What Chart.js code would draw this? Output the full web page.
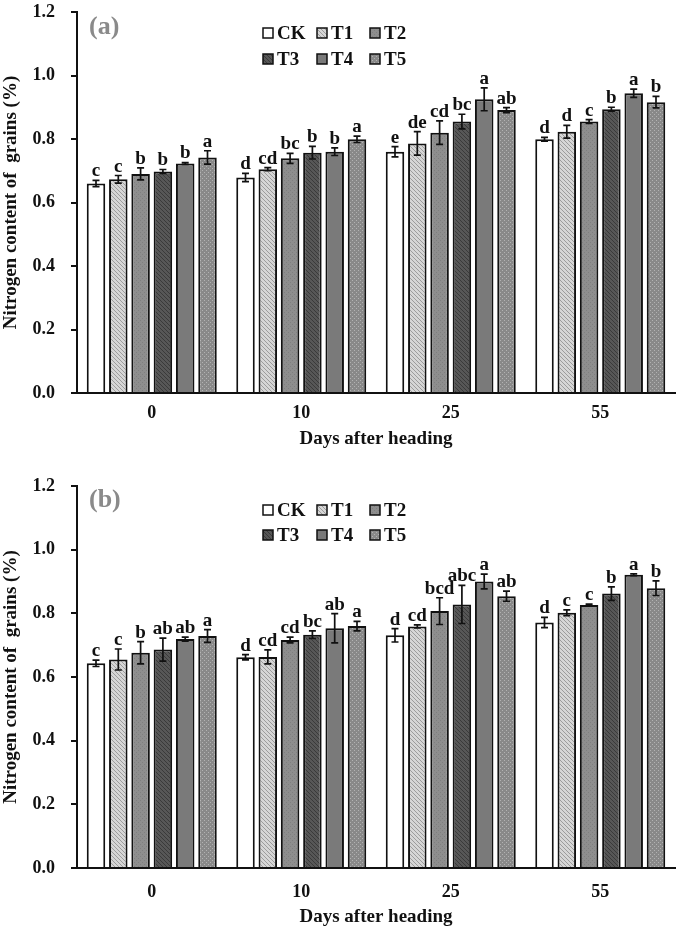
<!DOCTYPE html>
<html>
<head>
<meta charset="utf-8">
<script src="https://cdn.jsdelivr.net/npm/chart.js@4"></script>
<style>
body{margin:0;background:#fff;}
canvas{display:block;}
</style>
</head>
<body>
<canvas id="chartA" width="685" height="464"></canvas>
<canvas id="chartB" width="685" height="464"></canvas>
<script>
var days = ["0", "10", "25", "55"];
var treatments = ["CK", "T1", "T2", "T3", "T4", "T5"];

// panel (a) - one row per treatment, one value per day
var meanA = [
  [0.660, 0.679, 0.760, 0.799],
  [0.673, 0.705, 0.786, 0.823],
  [0.690, 0.739, 0.820, 0.855],
  [0.698, 0.757, 0.855, 0.894],
  [0.723, 0.760, 0.925, 0.944],
  [0.742, 0.799, 0.891, 0.916]
];
var errA = [
  [0.010, 0.013, 0.016, 0.006],
  [0.012, 0.005, 0.037, 0.020],
  [0.019, 0.016, 0.037, 0.006],
  [0.006, 0.020, 0.023, 0.006],
  [0.003, 0.012, 0.036, 0.013],
  [0.021, 0.010, 0.008, 0.018]
];
var lettersA = [
  ["c", "d", "e", "d"],
  ["c", "cd", "de", "d"],
  ["b", "bc", "cd", "c"],
  ["b", "b", "bc", "b"],
  ["b", "b", "a", "a"],
  ["a", "a", "ab", "b"]
];

// panel (b)
var meanB = [
  [0.643, 0.662, 0.731, 0.771],
  [0.655, 0.663, 0.759, 0.802],
  [0.676, 0.716, 0.807, 0.826],
  [0.686, 0.733, 0.828, 0.862],
  [0.719, 0.753, 0.900, 0.921],
  [0.729, 0.760, 0.854, 0.879]
];
var errB = [
  [0.010, 0.008, 0.021, 0.016],
  [0.033, 0.022, 0.005, 0.009],
  [0.035, 0.009, 0.042, 0.003],
  [0.036, 0.012, 0.060, 0.021],
  [0.006, 0.046, 0.023, 0.003],
  [0.020, 0.015, 0.016, 0.023]
];
var lettersB = [
  ["c", "d", "d", "d"],
  ["c", "cd", "cd", "c"],
  ["b", "cd", "bcd", "c"],
  ["ab", "bc", "abc", "b"],
  ["ab", "ab", "a", "a"],
  ["a", "a", "ab", "b"]
];

var FONT = '"Liberation Serif", "Times New Roman", serif';

function pattern(base, dot, kind) {
  var c = document.createElement("canvas");
  c.width = 4; c.height = 4;
  var g = c.getContext("2d");
  g.fillStyle = base;
  g.fillRect(0, 0, 4, 4);
  g.fillStyle = dot;
  if (kind == "diag") {
    g.fillRect(0, 0, 1, 1); g.fillRect(1, 1, 1, 1);
    g.fillRect(2, 2, 1, 1); g.fillRect(3, 3, 1, 1);
  } else {
    g.fillRect(0, 0, 1, 1); g.fillRect(2, 2, 1, 1);
  }
  return g.createPattern(c, "repeat");
}

var fills = [
  "#ffffff",
  pattern("#d6d6d6", "#9c9c9c", "diag"),
  pattern("#8e8e8e", "#7f7f7f", "dots"),
  pattern("#575757", "#3a3a3a", "diag"),
  "#7a7a7a",
  pattern("#898989", "#b2b2b2", "dots")
];

var extras = {
  id: "extras",
  afterDatasetsDraw: function(chart) {
    var ctx = chart.ctx, y = chart.scales.y;
    chart.data.datasets.forEach(function(ds, i) {
      var meta = chart.getDatasetMeta(i);
      meta.data.forEach(function(bar, j) {
        var v = ds.data[j], e = ds.errors[j];
        var top = y.getPixelForValue(v + e), bot = y.getPixelForValue(v - e);
        ctx.save();
        ctx.strokeStyle = "#111";
        ctx.lineWidth = 1.7;
        ctx.beginPath();
        ctx.moveTo(bar.x, top); ctx.lineTo(bar.x, bot);
        ctx.moveTo(bar.x - 3.5, top); ctx.lineTo(bar.x + 3.5, top);
        ctx.moveTo(bar.x - 3.5, bot); ctx.lineTo(bar.x + 3.5, bot);
        ctx.stroke();
        ctx.font = "bold 19px " + FONT;
        ctx.fillStyle = "#111";
        ctx.textAlign = "center";
        ctx.textBaseline = "alphabetic";
        ctx.fillText(ds.letters[j], bar.x, top - 4);
        ctx.restore();
      });
    });
  },
  afterDraw: function(chart, args, opts) {
    var ctx = chart.ctx;
    ctx.save();
    // panel letter
    ctx.font = "bold 26px " + FONT;
    ctx.fillStyle = "#8a8a8a";
    ctx.textAlign = "left";
    ctx.textBaseline = "middle";
    ctx.fillText(opts.panel, 89, opts.panelY);
    // legend, 3 columns x 2 rows
    var cols = [263, 317, 370];
    ctx.font = "bold 19px " + FONT;
    chart.data.datasets.forEach(function(ds, i) {
      var x = cols[i % 3], yc = opts.legendY[Math.floor(i / 3)];
      ctx.fillStyle = ds.backgroundColor;
      ctx.fillRect(x, yc - 5, 10, 10);
      ctx.strokeStyle = "#111";
      ctx.lineWidth = 1.5;
      ctx.strokeRect(x, yc - 5, 10, 10);
      ctx.fillStyle = "#111";
      ctx.fillText(ds.label, x + 14, yc + 1);
    });
    ctx.restore();
  }
};

function makeChart(id, means, errs, letters, panel, panelY, legendY, padTop, padBottom, xHeight, xPad) {
  var datasets = treatments.map(function(t, i) {
    return {
      label: t,
      data: means[i],
      errors: errs[i],
      letters: letters[i],
      backgroundColor: fills[i],
      borderColor: "#111",
      borderWidth: 2,
      categoryPercentage: 0.895,
      barPercentage: 0.83
    };
  });
  return new Chart(document.getElementById(id), {
    type: "bar",
    data: { labels: days, datasets: datasets },
    plugins: [extras],
    options: {
      responsive: false,
      animation: false,
      layout: { padding: { top: padTop, right: 10, left: 0, bottom: padBottom } },
      plugins: {
        legend: { display: false },
        tooltip: { enabled: false },
        extras: { panel: panel, panelY: panelY, legendY: legendY }
      },
      scales: {
        x: {
          grid: { display: false, drawTicks: false },
          border: { display: true, color: "#111", width: 2 },
          ticks: { color: "#111", padding: xPad, font: { family: FONT, size: 18, weight: "bold" } },
          title: { display: true, text: "Days after heading", color: "#111", padding: 0,
                   font: { family: FONT, size: 19, weight: "bold" } },
          afterFit: function(s) { s.height = xHeight; }
        },
        y: {
          min: 0, max: 1.2,
          grid: { drawOnChartArea: false, drawTicks: true, tickLength: 6, color: "#111", lineWidth: 2 },
          border: { display: true, color: "#111", width: 2 },
          ticks: { stepSize: 0.2, color: "#111", padding: 16,
                   font: { family: FONT, size: 18, weight: "bold" },
                   callback: function(v) { return v.toFixed(1); } },
          title: { display: true, text: "Nitrogen content of  grains (%)", color: "#111", padding: 0,
                   font: { family: FONT, size: 19, weight: "bold" } },
          afterFit: function(s) { s.width = 77; s.paddingTop = 0; s.paddingBottom = 0; }
        }
      }
    }
  });
}

makeChart("chartA", meanA, errA, lettersA, "(a)", 27, [33, 59], 12, 14, 57, 10);
makeChart("chartB", meanB, errB, lettersB, "(b)", 36, [46, 71], 22, 0, 60, 14);
</script>
</body>
</html>
